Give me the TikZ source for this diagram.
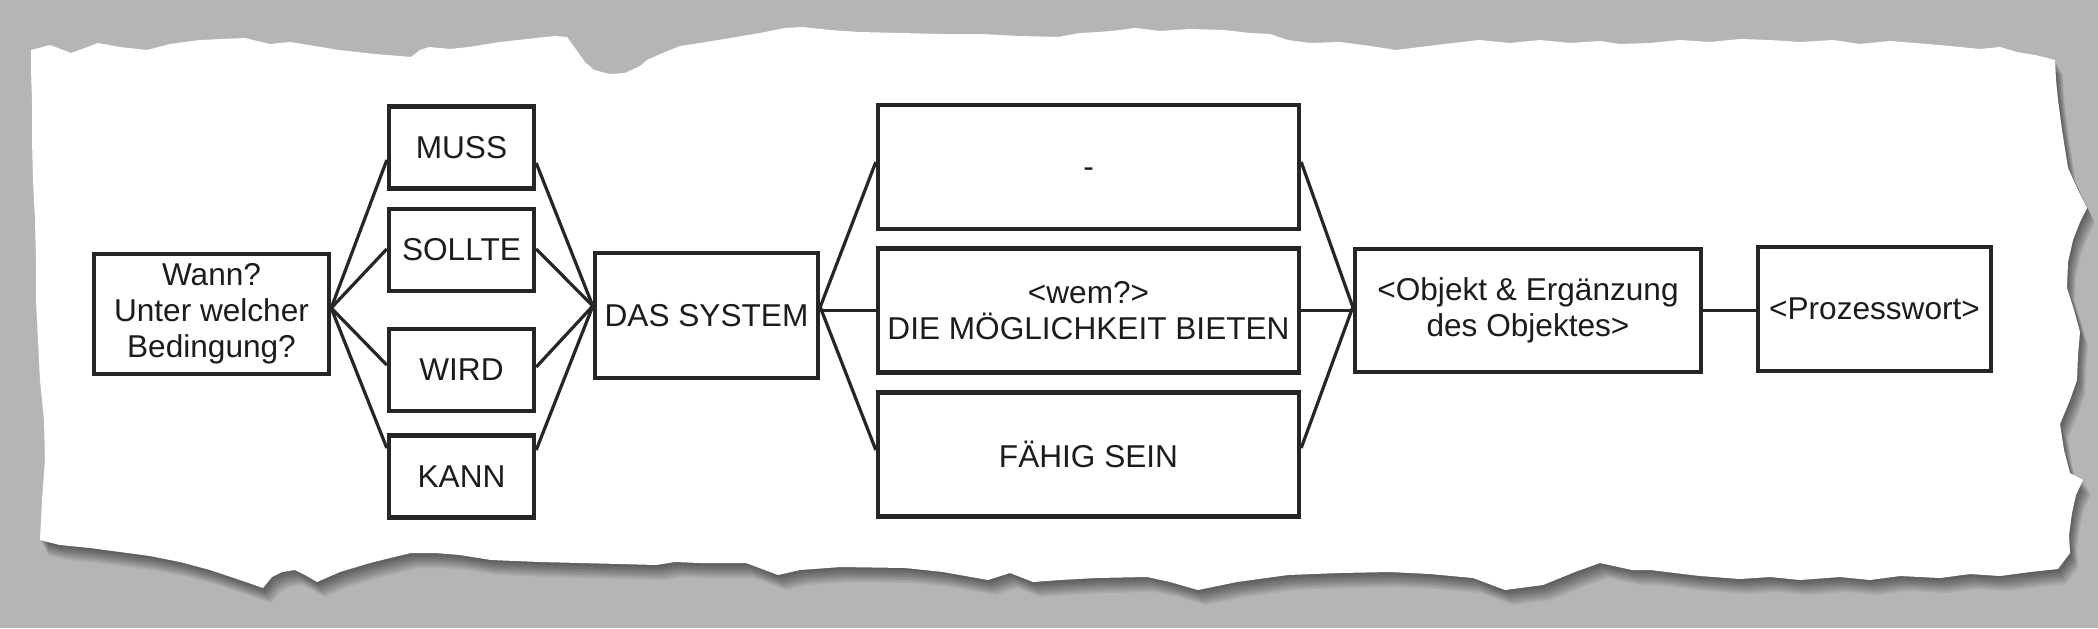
\documentclass[tikz,border=0pt]{standalone}
\usepackage{fontspec}
\setmainfont{Liberation Sans}
\usetikzlibrary{calc}
\definecolor{bggray}{RGB}{181,181,181}
\definecolor{ink}{RGB}{38,38,38}
\definecolor{txt}{RGB}{28,28,28}
\newcommand\paperoutline{(31,50) -- (50,45) -- (71,53) -- (85,48) -- (98,43) -- (120,47) -- (147,50) -- (170,44) -- (200,40) -- (245,38) -- (270,44) -- (290,42) -- (315,46) -- (339,50) -- (375,54) -- (411,57) -- (420,50) -- (429,47) -- (450,49) -- (469,47) -- (500,42) -- (536,38) -- (555,36) -- (567,37) -- (575,48) -- (585,62) -- (594,70) -- (610,74) -- (625,73) -- (640,66) -- (647,60) -- (665,52) -- (680,46) -- (700,43) -- (730,38) -- (760,33) -- (785,28) -- (803,27) -- (830,30) -- (860,32) -- (900,33) -- (940,34) -- (980,34) -- (1020,36) -- (1058,37) -- (1080,33) -- (1100,32) -- (1120,30) -- (1135,28) -- (1160,31) -- (1190,29) -- (1224,30) -- (1250,33) -- (1270,34) -- (1288,40) -- (1310,43) -- (1340,42) -- (1370,46) -- (1396,50) -- (1420,47) -- (1445,44) -- (1479,40) -- (1510,43) -- (1540,40) -- (1570,43) -- (1600,41) -- (1620,44) -- (1650,43) -- (1680,40) -- (1710,42) -- (1740,39) -- (1770,40) -- (1800,42) -- (1833,40) -- (1860,44) -- (1890,41) -- (1927,44) -- (1950,46) -- (1980,49) -- (2000,47) -- (2017,52) -- (2035,55) -- (2055,60) -- (2056,80) -- (2058,100) -- (2062,130) -- (2068,168) -- (2078,190) -- (2087,208) -- (2080,222) -- (2073,240) -- (2068,262) -- (2067,288) -- (2074,310) -- (2080,332) -- (2078,355) -- (2077,380) -- (2070,400) -- (2060,424) -- (2064,450) -- (2070,473) -- (2083,480) -- (2076,495) -- (2072,513) -- (2069,535) -- (2070,553) -- (2058,569) -- (2030,572) -- (2000,576) -- (1970,574) -- (1940,578) -- (1900,576) -- (1870,580) -- (1840,577) -- (1800,580) -- (1770,577) -- (1740,579) -- (1700,576) -- (1650,570) -- (1632,570) -- (1600,563) -- (1575,572) -- (1543,585) -- (1505,590) -- (1473,578) -- (1430,574) -- (1390,572) -- (1340,573) -- (1288,575) -- (1237,582) -- (1198,590) -- (1170,582) -- (1147,577) -- (1096,578) -- (1060,580) -- (1033,582) -- (1010,573) -- (988,580) -- (943,572) -- (905,568) -- (841,567) -- (800,570) -- (778,575) -- (746,563) -- (700,563) -- (675,562) -- (656,565) -- (620,564) -- (580,563) -- (540,562) -- (491,560) -- (460,555) -- (435,553) -- (411,553) -- (390,558) -- (370,563) -- (340,572) -- (317,582) -- (305,575) -- (295,570) -- (282,572) -- (272,577) -- (263,588) -- (240,580) -- (210,570) -- (180,562) -- (150,556) -- (120,552) -- (90,548) -- (60,545) -- (40,540) -- (42,500) -- (45,460) -- (44,420) -- (40,380) -- (38,340) -- (36,300) -- (36,260) -- (35,220) -- (33,180) -- (32,140) -- (32,100) -- (31,70) -- cycle}
\begin{document}
\begin{tikzpicture}[x=0.5pt,y=-0.5pt,
  box/.style={draw=ink,line width=2.2pt,inner sep=0pt,align=center,text=txt,
    font=\fontsize{15.8pt}{18pt}\selectfont},
  modal/.style={box,minimum width=72.5pt,minimum height=41pt},
  option/.style={box,minimum width=210.5pt,minimum height=62pt},
  link/.style={draw=ink,line width=1.6pt}]
\useasboundingbox (0,0) rectangle (2098,628);
\fill[bggray] (0,0) rectangle (2098,628);
% torn paper with soft shadow
\foreach \k in {1,...,10} {
  \fill[black,opacity=0.06,shift={(\k*0.8,\k*1.5)}] \paperoutline;
}
\fill[white] \paperoutline;
% nodes
\node[box,minimum width=117.5pt,minimum height=60pt] (wann) at (211.5,314) {Wann?\\Unter welcher\\Bedingung?};
\node[modal] (muss) at (461.5,147.5) {MUSS};
\node[modal] (sollte) at (461.5,250) {SOLLTE};
\node[modal] (wird) at (461.5,370) {WIRD};
\node[modal] (kann) at (461.5,476.5) {KANN};
\node[box,minimum width=111.5pt,minimum height=62.5pt] (das) at (706.5,315.5) {DAS SYSTEM};
\node[option] (opt1) at (1088.5,167) {\vphantom{A}-};
\node[option] (opt2) at (1088.5,310.5) {<wem?>\\DIE MÖGLICHKEIT BIETEN};
\node[option] (opt3) at (1088.5,454.5) {FÄHIG SEIN};
\node[box,minimum width=173pt,minimum height=61.5pt] (obj) at (1528,310.5) {<Objekt \& Ergänzung\\des Objektes>};
\node[box,minimum width=116.5pt,minimum height=62pt] (proz) at (1874.5,309) {<Prozesswort>};
% connection points
\coordinate (wR) at ($(wann.east)+(0,-6)$);
\coordinate (dL) at ($(das.west)+(0,-9.5)$);
\coordinate (dR) at ($(das.east)+(0,-8.5)$);
\coordinate (oL) at ($(obj.west)+(0,-3.5)$);
% fan: condition -> modal verbs
\draw[link] (wR) -- ($(muss.west)+(0,12.5)$);
\draw[link] (wR) -- ($(sollte.west)+(0,-1)$);
\draw[link] (wR) -- ($(wird.west)+(0,-5)$);
\draw[link] (wR) -- ($(kann.west)+(0,-28.5)$);
% fan: modal verbs -> system
\draw[link] ($(muss.east)+(0,15.5)$) -- (dL);
\draw[link] ($(sollte.east)+(0,-1)$) -- (dL);
\draw[link] ($(wird.east)+(0,-3)$) -- (dL);
\draw[link] ($(kann.east)+(0,-26.5)$) -- (dL);
% system -> options
\draw[link] (dR) -- ($(opt1.west)+(0,-5)$);
\draw[link] (das.east |- opt2.west) -- (opt2.west);
\draw[link] (dR) -- ($(opt3.west)+(0,-4.5)$);
% options -> object
\draw[link] ($(opt1.east)+(0,-5)$) -- (oL);
\draw[link] (opt2.east) -- (obj.west);
\draw[link] ($(opt3.east)+(0,-6.5)$) -- (oL);
% object -> process word
\draw[link] (obj.east) -- (obj.east -| proz.west);
\end{tikzpicture}
\end{document}
